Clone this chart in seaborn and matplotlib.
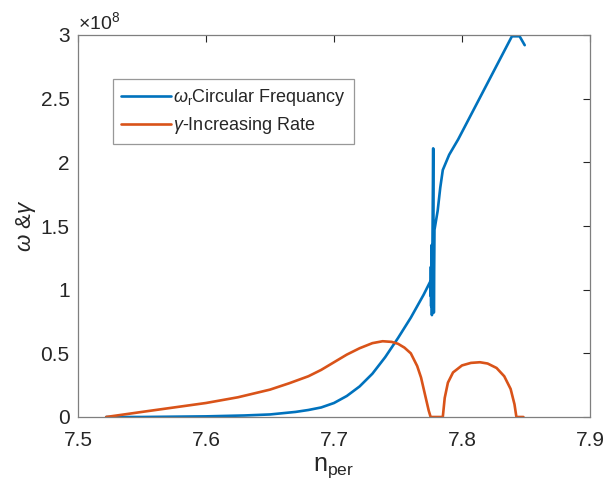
import matplotlib
matplotlib.use("Agg")
import matplotlib.pyplot as plt
import seaborn as sns
import pandas as pd

# Values in units of 1e8
blue_x = [7.522, 7.55, 7.60, 7.63, 7.65, 7.67, 7.68, 7.69, 7.70, 7.71, 7.72, 7.73, 7.74,
          7.75, 7.76, 7.77, 7.775, 7.7755, 7.7757, 7.7759, 7.7762, 7.7765, 7.7775,
          7.7780, 7.7785, 7.781, 7.783, 7.785, 7.790, 7.797, 7.839, 7.845, 7.849]
blue_y = [0.0, 0.0, 0.005, 0.012, 0.02, 0.04, 0.055, 0.075, 0.11, 0.165, 0.24, 0.34, 0.47,
          0.62, 0.78, 0.96, 1.06, 0.95, 1.18, 0.87, 1.35, 0.80, 2.11,
          0.82, 1.47, 1.62, 1.80, 1.94, 2.06, 2.18, 2.99, 2.99, 2.92]

orange_x = [7.522, 7.55, 7.575, 7.60, 7.625, 7.65, 7.665, 7.68, 7.69, 7.70, 7.71, 7.72, 7.73, 7.738,
            7.745, 7.75, 7.755, 7.76, 7.765, 7.768, 7.771, 7.774, 7.7755,
            7.785, 7.7865, 7.789, 7.793, 7.80, 7.807, 7.814, 7.82, 7.827, 7.833,
            7.838, 7.841, 7.8425, 7.848]
orange_y = [0.0, 0.04, 0.075, 0.11, 0.155, 0.215, 0.265, 0.32, 0.37, 0.43, 0.49, 0.54, 0.58, 0.595,
            0.59, 0.575, 0.545, 0.50, 0.40, 0.31, 0.18, 0.05, 0.0,
            0.0, 0.15, 0.27, 0.35, 0.405, 0.425, 0.43, 0.42, 0.385, 0.32,
            0.22, 0.10, 0.0, 0.0]

x_ticks = [7.5, 7.6, 7.7, 7.8, 7.9]
y_ticks = [0, 0.5, 1, 1.5, 2, 2.5, 3]
y_ticklabels = ["0", "0.5", "1", "1.5", "2", "2.5", "3"]

sns.set_style("white")
plt.rcParams['font.family'] = ['Liberation Sans', 'DejaVu Sans']
plt.rcParams['mathtext.fontset'] = 'custom'
plt.rcParams['mathtext.rm'] = 'Liberation Sans'
plt.rcParams['mathtext.it'] = 'Liberation Sans:italic'

axcol = '#262626'
fig = plt.figure(figsize=(6.06, 4.96), dpi=100)
ax = fig.add_axes([78/606, 1-417/496, (590-78)/606, (417-35)/496])

df_b = pd.DataFrame({'x': blue_x, 'y': blue_y})
df_o = pd.DataFrame({'x': orange_x, 'y': orange_y})
sns.lineplot(data=df_b, x='x', y='y', sort=False, estimator=None, ax=ax,
             color='#0072BD', lw=1.9, label=r'$\omega_{\mathrm{r}}$Circular Frequancy')
sns.lineplot(data=df_o, x='x', y='y', sort=False, estimator=None, ax=ax,
             color='#D95319', lw=1.9, label=r'$\gamma$-Increasing Rate')

ax.set_xlim(7.5, 7.9)
ax.set_ylim(0, 3)
ax.set_xticks(x_ticks)
ax.set_xticklabels([f"{t:.1f}" for t in x_ticks])
ax.set_yticks(y_ticks)
ax.set_yticklabels(y_ticklabels)
ax.tick_params(direction='in', length=5, width=0.8, colors=axcol, labelsize=15,
               top=True, right=True, pad=6)
ax.tick_params(axis='x', pad=10)
for s in ax.spines.values():
    s.set_color('#7f7f7f')
    s.set_linewidth(0.9)
    s.set_visible(True)

ax.set_xlabel(r'n$_{\mathrm{per}}$', fontsize=18, color=axcol, labelpad=4)
ax.set_ylabel(r'$\omega$ &$\gamma$', fontsize=16, color=axcol, labelpad=2)
ax.text(0.0, 1.005, r'$\times$10$^{8}$', transform=ax.transAxes, fontsize=14,
        color=axcol, ha='left', va='bottom')

leg = ax.legend(loc='upper left', bbox_to_anchor=(0.068, 0.885), fontsize=13,
                frameon=True, fancybox=False, handlelength=2.8, handletextpad=0.1,
                borderpad=0.45, labelspacing=0.4, borderaxespad=0)
leg.get_frame().set_edgecolor('#7f7f7f')
leg.get_frame().set_linewidth(0.9)
for t in leg.get_texts():
    t.set_color(axcol)

fig.savefig('out.png', dpi=100)
